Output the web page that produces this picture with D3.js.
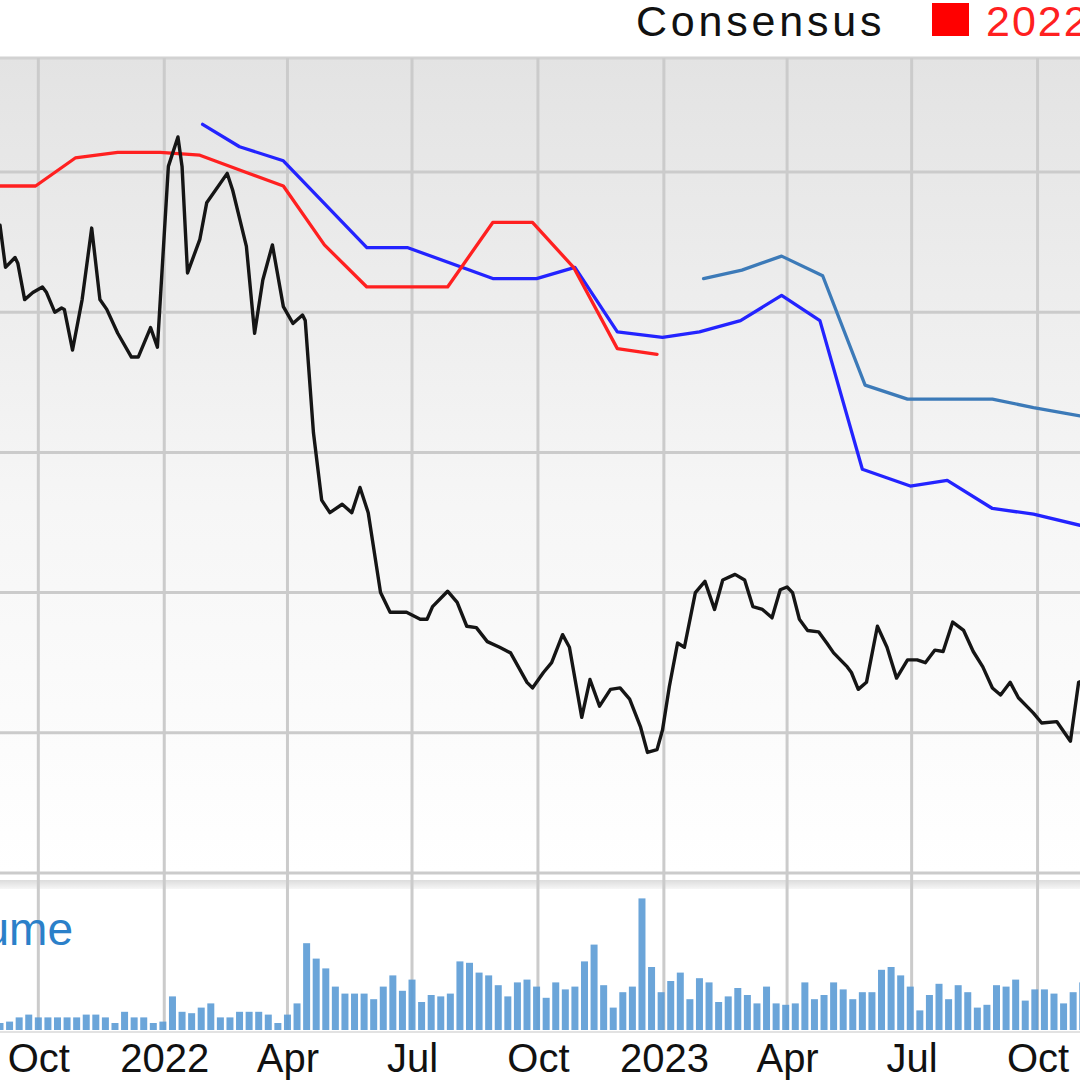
<!DOCTYPE html>
<html>
<head>
<meta charset="utf-8">
<script src="https://cdn.jsdelivr.net/npm/d3@7/dist/d3.min.js"></script>
<style>
  body { margin: 0; background: #fff; }
  svg { display: block; font-family: "Liberation Sans", Arial, Helvetica, sans-serif; }
</style>
</head>
<body>
<div id="chart"></div>
<script>
const parseDate = d3.timeParse("%Y-%m-%d");

// weekly-ish closing prices
const priceSeries = [
  ["2021-09-03",46.2],["2021-09-07",43.2],["2021-09-14",43.9],["2021-09-16",43.5],["2021-09-21",40.9],
  ["2021-09-27",41.4],["2021-10-04",41.8],["2021-10-07",41.4],["2021-10-13",40.0],["2021-10-18",40.3],
  ["2021-10-20",40.2],["2021-10-26",37.3],["2021-11-02",40.9],["2021-11-09",46.0],["2021-11-15",40.9],
  ["2021-11-20",40.2],["2021-11-28",38.5],["2021-12-08",36.8],["2021-12-13",36.8],["2021-12-22",38.9],
  ["2021-12-27",37.5],["2022-01-04",50.4],["2022-01-11",52.5],["2022-01-14",50.4],["2022-01-18",42.8],
  ["2022-01-27",45.2],["2022-02-01",47.8],["2022-02-16",49.9],["2022-02-20",48.7],["2022-03-02",44.7],
  ["2022-03-08",38.5],["2022-03-14",42.3],["2022-03-21",44.8],["2022-03-29",40.4],["2022-04-05",39.2],
  ["2022-04-12",39.8],["2022-04-14",39.4],["2022-04-20",31.4],["2022-04-26",26.6],["2022-05-02",25.7],
  ["2022-05-11",26.3],["2022-05-18",25.7],["2022-05-24",27.5],["2022-05-30",25.7],["2022-06-08",20.0],
  ["2022-06-15",18.6],["2022-06-27",18.6],["2022-07-07",18.1],["2022-07-12",18.1],["2022-07-16",19.0],
  ["2022-07-27",20.1],["2022-08-03",19.3],["2022-08-10",17.6],["2022-08-17",17.5],["2022-08-25",16.5],
  ["2022-09-03",16.1],["2022-09-11",15.7],["2022-09-23",13.6],["2022-09-27",13.2],["2022-10-05",14.3],
  ["2022-10-11",15.0],["2022-10-19",17.0],["2022-10-24",16.1],["2022-11-02",11.1],["2022-11-08",13.8],
  ["2022-11-15",11.9],["2022-11-23",13.1],["2022-11-30",13.2],["2022-12-07",12.4],["2022-12-15",10.4],
  ["2022-12-20",8.6],["2022-12-27",8.8],["2022-12-31",10.2],["2023-01-05",13.3],["2023-01-11",16.4],
  ["2023-01-16",16.1],["2023-01-24",20.0],["2023-01-31",20.8],["2023-02-07",18.8],["2023-02-13",20.9],
  ["2023-02-22",21.3],["2023-03-01",20.9],["2023-03-07",19.0],["2023-03-14",18.8],["2023-03-21",18.2],
  ["2023-03-27",20.2],["2023-04-01",20.4],["2023-04-05",20.0],["2023-04-10",18.1],["2023-04-16",17.3],
  ["2023-04-24",17.2],["2023-04-30",16.4],["2023-05-05",15.7],["2023-05-15",14.7],["2023-05-18",14.3],
  ["2023-05-23",13.1],["2023-05-29",13.6],["2023-06-06",17.6],["2023-06-13",16.1],["2023-06-20",13.9],
  ["2023-06-28",15.2],["2023-07-05",15.2],["2023-07-11",15.0],["2023-07-18",15.9],["2023-07-24",15.8],
  ["2023-07-31",17.9],["2023-08-08",17.3],["2023-08-15",15.8],["2023-08-22",14.7],["2023-08-29",13.2],
  ["2023-09-04",12.7],["2023-09-11",13.6],["2023-09-17",12.5],["2023-09-23",11.9],["2023-09-28",11.4],
  ["2023-10-04",10.7],["2023-10-15",10.8],["2023-10-25",9.4],["2023-10-31",13.6],["2023-11-05",13.8]
];

// EPS consensus for each fiscal year
const consensus2022 = [
  ["2021-09-03",1.95],["2021-09-29",1.95],["2021-10-28",2.05],["2021-11-28",2.07],["2021-12-29",2.07],
  ["2022-01-27",2.06],["2022-03-01",2.00],["2022-03-29",1.95],["2022-04-28",1.74],["2022-05-29",1.59],
  ["2022-07-27",1.59],["2022-08-29",1.82],["2022-09-27",1.82],["2022-10-27",1.66],["2022-11-28",1.37],
  ["2022-12-27",1.35]
];
const consensus2023 = [
  ["2022-01-29",2.17],["2022-02-25",2.09],["2022-03-29",2.04],["2022-05-29",1.73],["2022-06-28",1.73],
  ["2022-08-29",1.62],["2022-09-30",1.62],["2022-10-28",1.66],["2022-11-28",1.43],["2022-12-31",1.41],
  ["2023-01-27",1.43],["2023-02-26",1.47],["2023-03-28",1.56],["2023-04-25",1.47],["2023-05-26",0.94],
  ["2023-06-30",0.88],["2023-07-27",0.90],["2023-08-29",0.80],["2023-09-28",0.78],["2023-11-01",0.74]
];
const consensus2024 = [
  ["2023-01-30",1.62],["2023-02-27",1.65],["2023-03-28",1.70],["2023-04-27",1.63],["2023-05-28",1.24],
  ["2023-06-28",1.19],["2023-07-29",1.19],["2023-08-29",1.19],["2023-09-28",1.16],["2023-11-01",1.13]
];

// weekly volume (millions), first bar is the week of 2021-09-03
const volumeFirstWeek = "2021-09-03";
const volumeValues = [
  0.5,0.6,0.9,1.1,0.9,0.9,0.9,0.9,0.9,1.1,
  1.1,0.9,0.5,1.3,0.9,0.9,0.5,0.6,2.4,1.3,
  1.2,1.6,1.9,0.9,0.9,1.3,1.3,1.3,1.1,0.5,
  1.1,1.9,6.2,5.1,4.4,3.1,2.6,2.6,2.6,2.2,
  3.1,3.9,2.8,3.6,2.0,2.5,2.4,2.6,4.9,4.8,
  4.1,3.9,3.2,2.4,3.4,3.6,3.1,2.3,3.4,2.9,
  3.1,4.9,6.1,3.2,1.6,2.7,3.1,9.4,4.5,2.7,
  3.5,4.1,2.2,3.7,3.4,2.0,2.4,3.0,2.5,1.9,
  3.1,1.9,1.8,1.9,3.4,2.2,2.5,3.4,2.9,2.2,
  2.7,2.7,4.3,4.5,3.9,3.1,1.4,2.5,3.3,2.2,
  3.2,2.7,1.6,1.8,3.2,3.1,3.6,2.1,2.9,2.9,
  2.6,1.9,2.7,3.4
];

const priceGrid = [0, 10, 20, 30, 40, 50];
const legendTitle = "Consensus";
const legendYear = "2022";
const volumeLabel = "Volume";

const width = 1080;
const height = 1080;
const panel = { top: 58, priceBottom: 873, volTop: 878, volBottom: 1030 };

const xScale = d3.scaleTime()
    .domain([parseDate("2021-09-03"), parseDate("2023-11-01")])
    .range([0, width]);

const yPrice = d3.scaleLinear()
    .domain([0, 50])
    .range([panel.priceBottom, 172]);

const yEps = d3.scaleLinear()
    .domain([0, 2])
    .range([yPrice(10), yPrice(50)]);

const yVol = d3.scaleLinear()
    .domain([0, 10])
    .range([panel.volBottom, 890]);

const svg = d3.select("#chart").append("svg")
    .attr("width", width)
    .attr("height", height);

const defs = svg.append("defs");
const bgGrad = defs.append("linearGradient")
    .attr("id", "bg").attr("x1", 0).attr("y1", 0).attr("x2", 0).attr("y2", 1);
bgGrad.append("stop").attr("offset", "0%").attr("stop-color", "#e3e3e3");
bgGrad.append("stop").attr("offset", "55%").attr("stop-color", "#f6f6f6");
bgGrad.append("stop").attr("offset", "100%").attr("stop-color", "#ffffff");

const bandGrad = defs.append("linearGradient")
    .attr("id", "band").attr("x1", 0).attr("y1", 0).attr("x2", 0).attr("y2", 1);
bandGrad.append("stop").attr("offset", "0%").attr("stop-color", "#dcdcdc");
bandGrad.append("stop").attr("offset", "100%").attr("stop-color", "#f6f6f6");

// panels
svg.append("rect")
    .attr("x", 0).attr("y", panel.top)
    .attr("width", width).attr("height", panel.priceBottom - panel.top)
    .attr("fill", "url(#bg)");

svg.append("line")
    .attr("x1", 0).attr("x2", width)
    .attr("y1", panel.top).attr("y2", panel.top)
    .attr("stroke", "#d2d2d2").attr("stroke-width", 3);

svg.append("rect")
    .attr("x", 0).attr("y", panel.volTop + 2)
    .attr("width", width).attr("height", 9)
    .attr("fill", "url(#band)");

svg.append("line")
    .attr("x1", 0).attr("x2", width)
    .attr("y1", panel.volBottom + 2).attr("y2", panel.volBottom + 2)
    .attr("stroke", "#e2e2e2").attr("stroke-width", 2);

// grid
const monthTicks = xScale.ticks(d3.timeMonth.every(3));

svg.append("g")
    .selectAll("line")
    .data(priceGrid)
    .join("line")
    .attr("x1", 0).attr("x2", width)
    .attr("y1", d => yPrice(d)).attr("y2", d => yPrice(d))
    .attr("stroke", "#cbcbcb")
    .attr("stroke-width", 3);

svg.append("g")
    .selectAll("line")
    .data(monthTicks)
    .join("line")
    .attr("x1", d => xScale(d)).attr("x2", d => xScale(d))
    .attr("y1", panel.top).attr("y2", panel.volBottom)
    .attr("stroke", "#cbcbcb")
    .attr("stroke-width", 3);

// volume bars
const volumeWeeks = d3.timeFriday.range(parseDate(volumeFirstWeek), parseDate("2024-01-01"))
    .slice(0, volumeValues.length);
const barWidth = 7;

svg.append("g")
    .selectAll("rect")
    .data(volumeValues)
    .join("rect")
    .attr("x", (d, i) => xScale(volumeWeeks[i]) - barWidth / 2)
    .attr("y", d => yVol(d))
    .attr("width", barWidth)
    .attr("height", d => yVol(0) - yVol(d))
    .attr("fill", "#5b9bd5")
    .attr("fill-opacity", 0.9);

svg.append("text")
    .attr("x", 73)
    .attr("y", 945)
    .attr("text-anchor", "end")
    .attr("font-size", "46px")
    .attr("fill", "#2b80c9")
    .text(volumeLabel);

// consensus lines
function drawSeries(series, yScale, color, w) {
    const line = d3.line()
        .x(d => xScale(parseDate(d[0])))
        .y(d => yScale(d[1]));
    svg.append("path")
        .datum(series)
        .attr("d", line)
        .attr("fill", "none")
        .attr("stroke", color)
        .attr("stroke-width", w)
        .attr("stroke-linejoin", "round")
        .attr("stroke-linecap", "round");
}

drawSeries(consensus2024, yEps, "#3c7ab8", 3.3);
drawSeries(consensus2023, yEps, "#2323ff", 3.3);
drawSeries(consensus2022, yEps, "#ff2020", 3.3);
drawSeries(priceSeries, yPrice, "#151515", 3.4);

// x axis labels
const xAxis = d3.axisBottom(xScale)
    .tickValues(monthTicks)
    .tickFormat(d => d.getMonth() === 0 ? d3.timeFormat("%Y")(d) : d3.timeFormat("%b")(d))
    .tickSize(0)
    .tickPadding(14);

const axisG = svg.append("g")
    .attr("transform", `translate(0,${panel.volBottom})`)
    .call(xAxis);
axisG.select(".domain").remove();
axisG.selectAll("text")
    .attr("font-size", "40px")
    .attr("font-family", "'Liberation Sans', Arial, sans-serif")
    .attr("fill", "#111");

// legend
svg.append("text")
    .attr("x", 636)
    .attr("y", 36)
    .attr("font-size", "43px")
    .attr("letter-spacing", "3.8px")
    .attr("fill", "#111")
    .text(legendTitle);

svg.append("rect")
    .attr("x", 932).attr("y", 3)
    .attr("width", 37).attr("height", 33)
    .attr("fill", "#ff0000");

svg.append("text")
    .attr("x", 986)
    .attr("y", 36)
    .attr("font-size", "43px")
    .attr("letter-spacing", "2px")
    .attr("fill", "#ff2020")
    .text(legendYear);
</script>
</body>
</html>
